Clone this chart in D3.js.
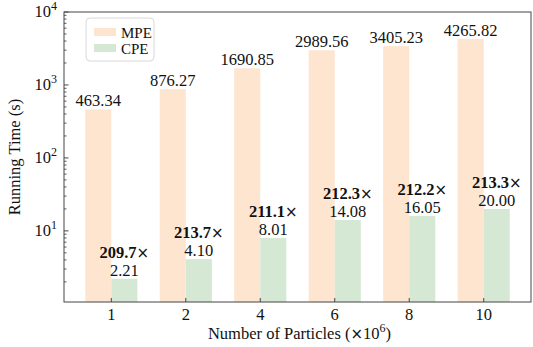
<!DOCTYPE html>
<html>
<head>
<meta charset="utf-8">
<script src="https://cdn.jsdelivr.net/npm/d3@7"></script>
<style>
  body { margin: 0; background: #fff; }
  text { font-family: "Liberation Serif", "DejaVu Serif", serif; fill: #111; }
</style>
</head>
<body>
<svg width="533" height="347"></svg>
<script>
const particles = ["1", "2", "4", "6", "8", "10"];
const mpeTimes = [463.34, 876.27, 1690.85, 2989.56, 3405.23, 4265.82];
const cpeTimes = [2.21, 4.10, 8.01, 14.08, 16.05, 20.00];
const speedups = ["209.7", "213.7", "211.1", "212.3", "212.2", "213.3"];
const yTickExps = [1, 2, 3, 4];

const margin = {top: 12, right: 2, bottom: 45, left: 64};
const W = 533, H = 347;
const width = W - margin.left - margin.right,
      height = H - margin.top - margin.bottom;

const mpeColor = "#fee5cf", cpeColor = "#d5e8d4";
const barW = 0.35;
const fs = 16.5;

const svg = d3.select("svg");
const g = svg.append("g")
  .attr("transform", "translate(" + margin.left + "," + margin.top + ")");

// index-based x so the bar groups line up like matplotlib
const x = d3.scaleLinear().domain([-0.635, particles.length - 1 + 0.635]).range([0, width]);
const y = d3.scaleLog().domain([1.06, 1e4]).range([height, 0]);

// bars
g.selectAll(".mpe").data(mpeTimes).join("rect")
  .attr("class", "mpe")
  .attr("x", (d, i) => x(i - barW))
  .attr("width", x(barW) - x(0))
  .attr("y", d => y(d))
  .attr("height", d => height - y(d))
  .attr("fill", mpeColor);

g.selectAll(".cpe").data(cpeTimes).join("rect")
  .attr("class", "cpe")
  .attr("x", (d, i) => x(i))
  .attr("width", x(barW) - x(0))
  .attr("y", d => y(d))
  .attr("height", d => height - y(d))
  .attr("fill", cpeColor);

// value labels
g.selectAll(".mpeLbl").data(mpeTimes).join("text")
  .attr("x", (d, i) => x(i - barW / 2))
  .attr("y", d => y(d) - 3)
  .attr("text-anchor", "middle")
  .attr("font-size", fs)
  .text(d => d.toFixed(2));

g.selectAll(".cpeLbl").data(cpeTimes).join("text")
  .attr("x", (d, i) => x(i + barW / 2))
  .attr("y", d => y(d) - 3)
  .attr("text-anchor", "middle")
  .attr("font-size", fs)
  .text(d => d.toFixed(2));

const sp = g.selectAll(".spLbl").data(cpeTimes).join("text")
  .attr("x", (d, i) => x(i + barW / 2))
  .attr("y", d => y(d) - 21)
  .attr("text-anchor", "middle")
  .attr("font-size", fs);
sp.append("tspan").attr("font-weight", "bold").text((d, i) => speedups[i]);
sp.append("tspan").attr("font-family", "DejaVu Sans").attr("font-size", 15).text("×");

// y axis ticks (inward), major + minor
const minor = [];
for (let e = 0; e < 4; e++) for (let m = 2; m <= 9; m++) {
  const v = m * Math.pow(10, e);
  if (v >= 1.06) minor.push(v);
}
g.selectAll(".minor").data(minor).join("line")
  .attr("x1", 0).attr("x2", 2.5)
  .attr("y1", d => y(d)).attr("y2", d => y(d))
  .attr("stroke", "#333").attr("stroke-width", 0.8);

g.selectAll(".major").data(yTickExps).join("line")
  .attr("x1", 0).attr("x2", 4.5)
  .attr("y1", d => y(Math.pow(10, d))).attr("y2", d => y(Math.pow(10, d)))
  .attr("stroke", "#333").attr("stroke-width", 0.9);

const yl = g.selectAll(".ylab").data(yTickExps).join("text")
  .attr("x", -7)
  .attr("y", d => y(Math.pow(10, d)) + 5)
  .attr("text-anchor", "end")
  .attr("font-size", fs);
yl.append("tspan").text("10");
yl.append("tspan").attr("dy", -7).attr("font-size", 12).text(d => d);

// x ticks
g.selectAll(".xt").data(particles).join("line")
  .attr("x1", (d, i) => x(i)).attr("x2", (d, i) => x(i))
  .attr("y1", height).attr("y2", height - 4)
  .attr("stroke", "#333").attr("stroke-width", 0.9);

g.selectAll(".xlab").data(particles).join("text")
  .attr("x", (d, i) => x(i))
  .attr("y", height + 18)
  .attr("text-anchor", "middle")
  .attr("font-size", fs)
  .text(d => d);

// frame
g.append("rect")
  .attr("width", width).attr("height", height)
  .attr("fill", "none").attr("stroke", "#444").attr("stroke-width", 1);

// axis titles
const xt = g.append("text")
  .attr("x", width / 2 + 2).attr("y", height + 37)
  .attr("text-anchor", "middle").attr("font-size", fs);
xt.append("tspan").text("Number of Particles (");
xt.append("tspan").attr("font-family", "DejaVu Sans").attr("font-size", 15).text("×");
xt.append("tspan").text("10");
xt.append("tspan").attr("dy", -7).attr("font-size", 12).text("6");
xt.append("tspan").attr("dy", 7).text(")");

g.append("text")
  .attr("transform", "translate(" + (-44) + "," + (height / 2) + ") rotate(-90)")
  .attr("text-anchor", "middle").attr("font-size", fs)
  .text("Running Time (s)");

// legend
const leg = g.append("g").attr("transform", "translate(22,6)");
leg.append("rect")
  .attr("width", 68).attr("height", 43).attr("rx", 4)
  .attr("fill", "#fff").attr("fill-opacity", 0.8)
  .attr("stroke", "#d8d8d8");
const entries = [["MPE", mpeColor], ["CPE", cpeColor]];
entries.forEach(([name, c], i) => {
  leg.append("rect").attr("x", 8).attr("y", 10 + i * 16)
    .attr("width", 22).attr("height", 8).attr("fill", c);
  leg.append("text").attr("x", 35).attr("y", 20 + i * 16)
    .attr("font-size", 15).text(name);
});
</script>
</body>
</html>
